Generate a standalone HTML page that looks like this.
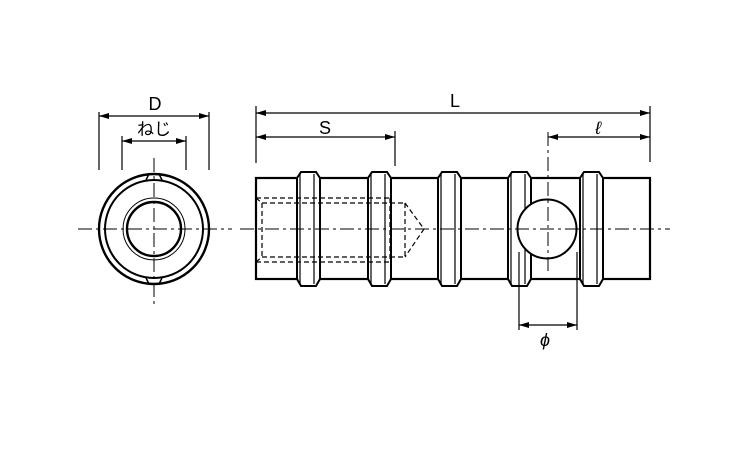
<!DOCTYPE html>
<html><head><style>body{margin:0;background:#fff}svg{display:block}</style></head><body>
<svg width="750" height="450" viewBox="0 0 750 450" xmlns="http://www.w3.org/2000/svg" font-family="Liberation Sans, Noto Sans CJK JP, sans-serif">
<defs><marker id="a" viewBox="0 0 10 6" refX="10" refY="3" markerWidth="10" markerHeight="6" orient="auto-start-reverse" markerUnits="userSpaceOnUse"><path d="M0,0L10,3L0,6z" fill="#000"/></marker></defs>
<g stroke="#000" fill="none">
<line x1="78" y1="229" x2="232" y2="229" stroke-width="1" stroke-dasharray="14,4,3,4"/>
<line x1="154" y1="158" x2="154" y2="305" stroke-width="1" stroke-dasharray="14,4,3,4"/>
<circle cx="154" cy="229" r="55" stroke-width="2.4"/>
<circle cx="154" cy="229" r="49" stroke-width="2"/>
<circle cx="154" cy="229" r="31" stroke-width="1"/>
<circle cx="154" cy="229" r="27" stroke-width="2.4"/>
<path d="M146,180 L149,174 L159,174 L162,180 M146,278 L149,284 L159,284 L162,278" stroke-width="1.5"/>
<rect x="256" y="178" width="394" height="101" stroke-width="2.2" fill="#fff"/>
<g stroke-width="2" fill="#fff">
<path d="M297,178 L301,172 L316,172 L320,178 L320,279 L316,286 L301,286 L297,279 Z"/>
<path d="M368,178 L372,172 L387,172 L391,178 L391,279 L387,286 L372,286 L368,279 Z"/>
<path d="M438,178 L442,172 L457,172 L461,178 L461,279 L457,286 L442,286 L438,279 Z"/>
<path d="M508,178 L512,172 L527,172 L531,178 L531,279 L527,286 L512,286 L508,279 Z"/>
<path d="M580,178 L584,172 L599,172 L603,178 L603,279 L599,286 L584,286 L580,279 Z"/>
</g>
<g stroke-width="1.2">
<path d="M300,174V284M314,174V284M371,174V284M385,174V284M441,174V284M455,174V284M511,174V284M525,174V284M583,174V284M597,174V284"/>
</g>
<g stroke-width="1.2" stroke-dasharray="5,3">
<path d="M256,198 L390,198 M256,262 L390,262 M262,203 L405,203 M262,257 L405,257 M262,203 L262,257 M390,198 L390,262 M405,203 L405,257 M405,203 L424,229 L405,257 M256,198 L262,203 M256,262 L262,257"/>
</g>
<path d="M240,229H670" stroke-width="1" stroke-dasharray="14,4,3,4"/>
<circle cx="547" cy="229" r="29.5" stroke-width="2" fill="#fff"/>
<path d="M240,229H670M548,132V275" stroke-width="1" stroke-dasharray="14,4,3,4"/>
<g stroke-width="1.2">
<path d="M99,112V170M209,112V170M122,136V170M186,136V170"/>
<line x1="99" y1="116" x2="209" y2="116" marker-start="url(#a)" marker-end="url(#a)"/>
<line x1="122" y1="141" x2="186" y2="141" marker-start="url(#a)" marker-end="url(#a)"/>
<path d="M256,106V163M650,106V162M395,131V166"/>
<line x1="256" y1="113" x2="650" y2="113" marker-start="url(#a)" marker-end="url(#a)"/>
<line x1="256" y1="137" x2="395" y2="137" marker-start="url(#a)" marker-end="url(#a)"/>
<line x1="548" y1="137" x2="650" y2="137" marker-start="url(#a)" marker-end="url(#a)"/>
<path d="M519,252V330M577,252V330"/>
<line x1="519" y1="325" x2="577" y2="325" marker-start="url(#a)" marker-end="url(#a)"/>
</g>
</g>
<g font-size="18" text-anchor="middle" fill="#000">
<text x="155" y="110">D</text>
<text x="154" y="135" font-size="17">ねじ</text>
<text x="455" y="107">L</text>
<text x="325" y="134">S</text>
<text x="598" y="134" font-style="italic">ℓ</text>
<text x="545" y="346" font-style="italic">ϕ</text>
</g>
</svg>
</body></html>
